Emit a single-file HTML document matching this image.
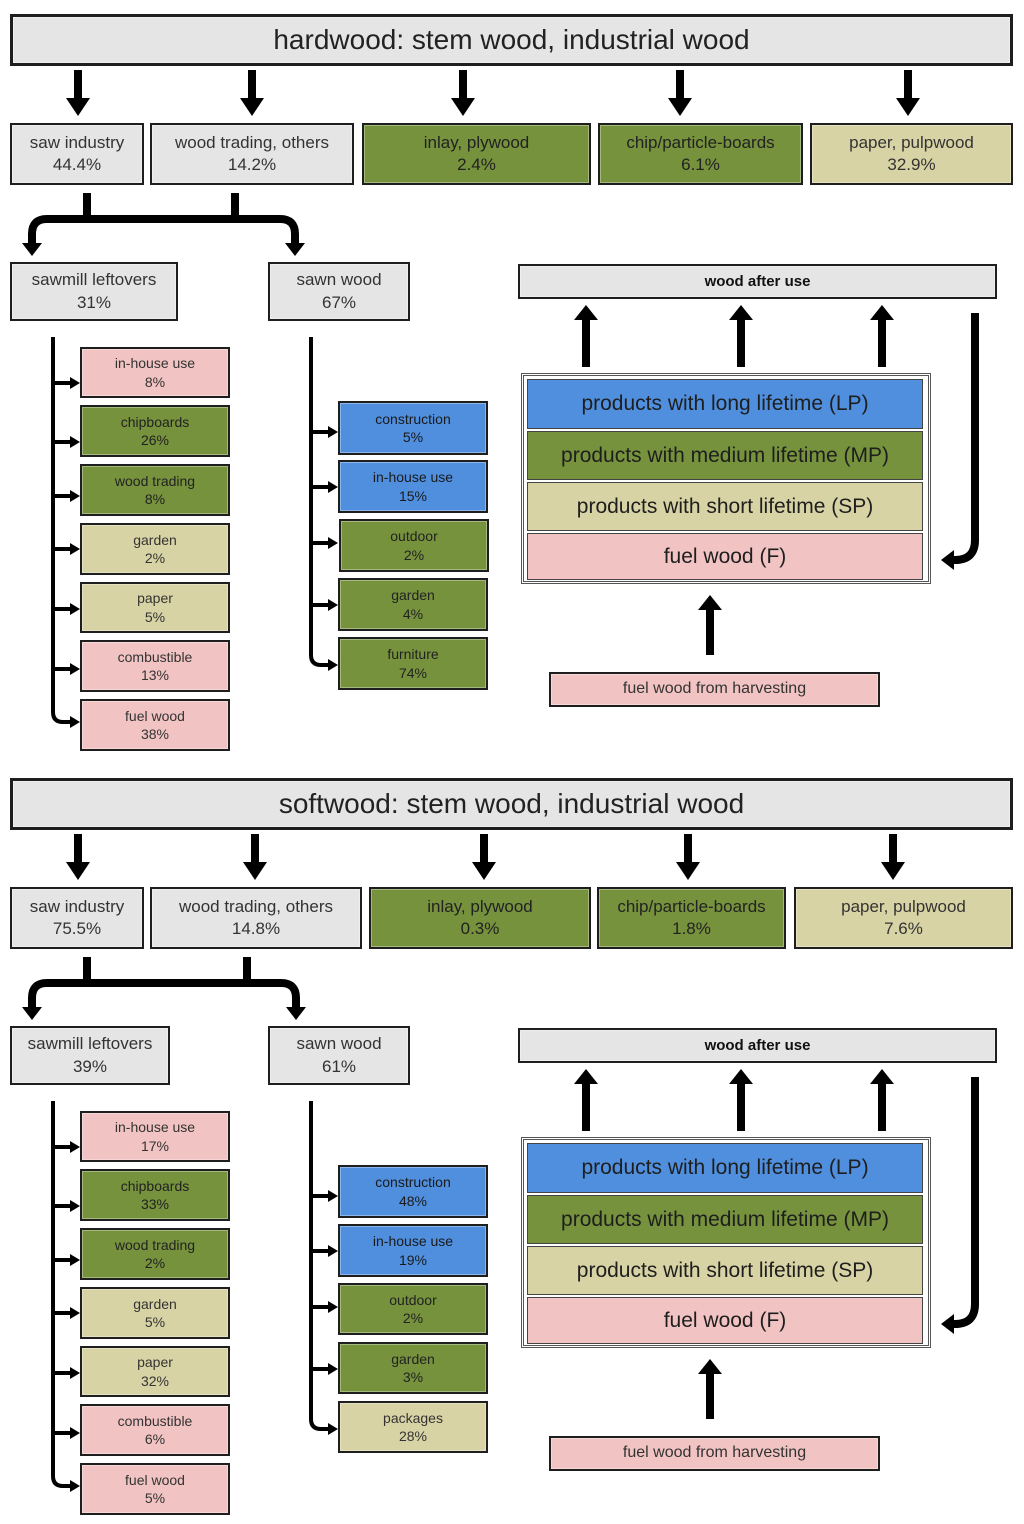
<!DOCTYPE html>
<html><head><meta charset="utf-8"><style>
body{margin:0;width:1024px;height:1524px;background:#fff;position:relative;overflow:hidden;font-family:"Liberation Sans",sans-serif;}
.b{position:absolute;box-sizing:border-box;border:2px solid #1e1e1e;display:flex;flex-direction:column;justify-content:center;align-items:center;text-align:center;color:#333;line-height:1.3;box-shadow:inset 0 0 0 1px rgba(255,255,255,.35);}
.g{background:#e5e5e5}.gr{background:#76923c;color:#222}.t{background:#d8d3a4}.p{background:#f2c3c3}.bl{background:#4f8fde;color:#1a1a1a}
.s{font-size:14px}.m{font-size:17px}
.T{font-size:28px;color:#222}
.L{position:absolute;box-sizing:border-box;display:flex;align-items:center;justify-content:center;font-size:21px;color:#1e1e1e;border:1px solid #444;}
svg{position:absolute;left:0;top:0}
</style></head><body>
<svg width="1024" height="1524" viewBox="0 0 1024 1524">
<g fill="#000" stroke="none">
<!-- top section down arrows -->
<g id="d1">
<rect x="74" y="70" width="8" height="30"/><polygon points="66,98 90,98 78,116"/>
<rect x="248" y="70" width="8" height="30"/><polygon points="240,98 264,98 252,116"/>
<rect x="459" y="70" width="8" height="30"/><polygon points="451,98 475,98 463,116"/>
<rect x="676" y="70" width="8" height="30"/><polygon points="668,98 692,98 680,116"/>
<rect x="904" y="70" width="8" height="30"/><polygon points="896,98 920,98 908,116"/>
</g>
<rect x="74" y="834" width="8" height="30"/><polygon points="66,862 90,862 78,880"/>
<rect x="251" y="834" width="8" height="30"/><polygon points="243,862 267,862 255,880"/>
<rect x="480" y="834" width="8" height="30"/><polygon points="472,862 496,862 484,880"/>
<rect x="684" y="834" width="8" height="30"/><polygon points="676,862 700,862 688,880"/>
<rect x="889" y="834" width="8" height="30"/><polygon points="881,862 905,862 893,880"/>
<!-- up arrows top -->
<rect x="582" y="318" width="8" height="49"/><polygon points="574,320 598,320 586,305"/>
<rect x="737" y="318" width="8" height="49"/><polygon points="729,320 753,320 741,305"/>
<rect x="878" y="318" width="8" height="49"/><polygon points="870,320 894,320 882,305"/>
<rect x="706" y="608" width="8" height="47"/><polygon points="698,610 722,610 710,595"/>
<rect x="582" y="1082" width="8" height="49"/><polygon points="574,1084 598,1084 586,1069"/>
<rect x="737" y="1082" width="8" height="49"/><polygon points="729,1084 753,1084 741,1069"/>
<rect x="878" y="1082" width="8" height="49"/><polygon points="870,1084 894,1084 882,1069"/>
<rect x="706" y="1372" width="8" height="47"/><polygon points="698,1374 722,1374 710,1359"/>
<!-- return arrows -->
<polygon points="941,560 954,550 954,570"/>
<polygon points="941,1324 954,1314 954,1334"/>
<!-- branch heads -->
<polygon points="22,243 42,243 32,256"/><polygon points="285,243 305,243 295,256"/>
<polygon points="22,1007 42,1007 32,1020"/><polygon points="286,1007 306,1007 296,1020"/>
</g>
<g fill="none" stroke="#000" stroke-width="8">
<path d="M975,313 V540 Q975,560 955,560 H950"/>
<path d="M975,1077 V1304 Q975,1324 955,1324 H950"/>
<path d="M87,193 V219 M235,193 V219 M32,244 V234 Q32,219 47,219 H280 Q295,219 295,234 V244"/>
<path d="M87,957 V983 M247,957 V983 M32,1008 V998 Q32,983 47,983 H281 Q296,983 296,998 V1008"/>
</g>
<g fill="none" stroke="#000" stroke-width="4">
<path d="M53,337 V712 Q53,722 63,722 H72"/>
<path d="M311,337 V655 Q311,665 321,665 H330"/>
<path d="M53,1101 V1476 Q53,1486 63,1486 H72"/>
<path d="M311,1101 V1419 Q311,1429 321,1429 H330"/>
</g>
<g stroke="#000" stroke-width="4">
<path d="M53,383H72M53,442H72M53,496H72M53,549H72M53,609H72M53,669H72"/>
<path d="M311,432H330M311,487H330M311,543H330M311,605H330"/>
<path d="M53,1147H72M53,1206H72M53,1260H72M53,1313H72M53,1373H72M53,1433H72"/>
<path d="M311,1196H330M311,1251H330M311,1307H330M311,1369H330"/>
</g>
<g fill="#000">
<polygon points="70,377 80,383 70,389"/><polygon points="70,436 80,442 70,448"/><polygon points="70,490 80,496 70,502"/><polygon points="70,543 80,549 70,555"/><polygon points="70,603 80,609 70,615"/><polygon points="70,663 80,669 70,675"/><polygon points="70,716 80,722 70,728"/>
<polygon points="328,426 338,432 328,438"/><polygon points="328,481 338,487 328,493"/><polygon points="328,537 338,543 328,549"/><polygon points="328,599 338,605 328,611"/><polygon points="328,659 338,665 328,671"/>
<polygon points="70,1141 80,1147 70,1153"/><polygon points="70,1200 80,1206 70,1212"/><polygon points="70,1254 80,1260 70,1266"/><polygon points="70,1307 80,1313 70,1319"/><polygon points="70,1367 80,1373 70,1379"/><polygon points="70,1427 80,1433 70,1439"/><polygon points="70,1480 80,1486 70,1492"/>
<polygon points="328,1190 338,1196 328,1202"/><polygon points="328,1245 338,1251 328,1257"/><polygon points="328,1301 338,1307 328,1313"/><polygon points="328,1363 338,1369 328,1375"/><polygon points="328,1423 338,1429 328,1435"/>
</g>
</svg>

<!-- HARDWOOD -->
<div class="b g T" style="left:10px;top:14px;width:1003px;height:52px;border-width:3px">hardwood: stem wood, industrial wood</div>
<div class="b g m" style="left:10px;top:123px;width:134px;height:62px">saw industry<br>44.4%</div>
<div class="b g m" style="left:150px;top:123px;width:204px;height:62px">wood trading, others<br>14.2%</div>
<div class="b gr m" style="left:362px;top:123px;width:229px;height:62px">inlay, plywood<br>2.4%</div>
<div class="b gr m" style="left:598px;top:123px;width:205px;height:62px">chip/particle-boards<br>6.1%</div>
<div class="b t m" style="left:810px;top:123px;width:203px;height:62px">paper, pulpwood<br>32.9%</div>
<div class="b g m" style="left:10px;top:262px;width:168px;height:59px">sawmill leftovers<br>31%</div>
<div class="b g m" style="left:268px;top:262px;width:142px;height:59px">sawn wood<br>67%</div>

<div class="b p s" style="left:80px;top:347px;width:150px;height:51px">in-house use<br>8%</div>
<div class="b gr s" style="left:80px;top:405px;width:150px;height:52px">chipboards<br>26%</div>
<div class="b gr s" style="left:80px;top:464px;width:150px;height:52px">wood trading<br>8%</div>
<div class="b t s" style="left:80px;top:523px;width:150px;height:52px">garden<br>2%</div>
<div class="b t s" style="left:80px;top:582px;width:150px;height:51px">paper<br>5%</div>
<div class="b p s" style="left:80px;top:640px;width:150px;height:52px">combustible<br>13%</div>
<div class="b p s" style="left:80px;top:699px;width:150px;height:52px">fuel wood<br>38%</div>

<div class="b bl s" style="left:338px;top:401px;width:150px;height:54px">construction<br>5%</div>
<div class="b bl s" style="left:338px;top:460px;width:150px;height:53px">in-house use<br>15%</div>
<div class="b gr s" style="left:339px;top:519px;width:150px;height:53px">outdoor<br>2%</div>
<div class="b gr s" style="left:338px;top:578px;width:150px;height:53px">garden<br>4%</div>
<div class="b gr s" style="left:338px;top:637px;width:150px;height:53px">furniture<br>74%</div>

<div class="b g" style="left:518px;top:264px;width:479px;height:35px;font-weight:bold;font-size:15px;color:#111">wood after use</div>
<div style="position:absolute;left:521px;top:373px;width:410px;height:211px;box-sizing:border-box;border:3px double #555;background:#fff"></div>
<div class="L bl" style="left:527px;top:379px;width:396px;height:50px">products with long lifetime (LP)</div>
<div class="L gr" style="left:527px;top:431px;width:396px;height:49px">products with medium lifetime (MP)</div>
<div class="L t" style="left:527px;top:482px;width:396px;height:49px">products with short lifetime (SP)</div>
<div class="L p" style="left:527px;top:533px;width:396px;height:47px">fuel wood (F)</div>
<div class="b p" style="left:549px;top:672px;width:331px;height:35px;font-size:16px">fuel wood from harvesting</div>

<!-- SOFTWOOD -->
<div class="b g T" style="left:10px;top:778px;width:1003px;height:52px;border-width:3px">softwood: stem wood, industrial wood</div>
<div class="b g m" style="left:10px;top:887px;width:134px;height:62px">saw industry<br>75.5%</div>
<div class="b g m" style="left:150px;top:887px;width:212px;height:62px">wood trading, others<br>14.8%</div>
<div class="b gr m" style="left:369px;top:887px;width:222px;height:62px">inlay, plywood<br>0.3%</div>
<div class="b gr m" style="left:597px;top:887px;width:189px;height:62px">chip/particle-boards<br>1.8%</div>
<div class="b t m" style="left:794px;top:887px;width:219px;height:62px">paper, pulpwood<br>7.6%</div>
<div class="b g m" style="left:10px;top:1026px;width:160px;height:59px">sawmill leftovers<br>39%</div>
<div class="b g m" style="left:268px;top:1026px;width:142px;height:59px">sawn wood<br>61%</div>

<div class="b p s" style="left:80px;top:1111px;width:150px;height:51px">in-house use<br>17%</div>
<div class="b gr s" style="left:80px;top:1169px;width:150px;height:52px">chipboards<br>33%</div>
<div class="b gr s" style="left:80px;top:1228px;width:150px;height:52px">wood trading<br>2%</div>
<div class="b t s" style="left:80px;top:1287px;width:150px;height:52px">garden<br>5%</div>
<div class="b t s" style="left:80px;top:1346px;width:150px;height:51px">paper<br>32%</div>
<div class="b p s" style="left:80px;top:1404px;width:150px;height:52px">combustible<br>6%</div>
<div class="b p s" style="left:80px;top:1463px;width:150px;height:52px">fuel wood<br>5%</div>

<div class="b bl s" style="left:338px;top:1165px;width:150px;height:53px">construction<br>48%</div>
<div class="b bl s" style="left:338px;top:1224px;width:150px;height:53px">in-house use<br>19%</div>
<div class="b gr s" style="left:338px;top:1283px;width:150px;height:52px">outdoor<br>2%</div>
<div class="b gr s" style="left:338px;top:1342px;width:150px;height:52px">garden<br>3%</div>
<div class="b t s" style="left:338px;top:1401px;width:150px;height:52px">packages<br>28%</div>

<div class="b g" style="left:518px;top:1028px;width:479px;height:35px;font-weight:bold;font-size:15px;color:#111">wood after use</div>
<div style="position:absolute;left:521px;top:1137px;width:410px;height:211px;box-sizing:border-box;border:3px double #555;background:#fff"></div>
<div class="L bl" style="left:527px;top:1143px;width:396px;height:50px">products with long lifetime (LP)</div>
<div class="L gr" style="left:527px;top:1195px;width:396px;height:49px">products with medium lifetime (MP)</div>
<div class="L t" style="left:527px;top:1246px;width:396px;height:49px">products with short lifetime (SP)</div>
<div class="L p" style="left:527px;top:1297px;width:396px;height:47px">fuel wood (F)</div>
<div class="b p" style="left:549px;top:1436px;width:331px;height:35px;font-size:16px">fuel wood from harvesting</div>
</body></html>
